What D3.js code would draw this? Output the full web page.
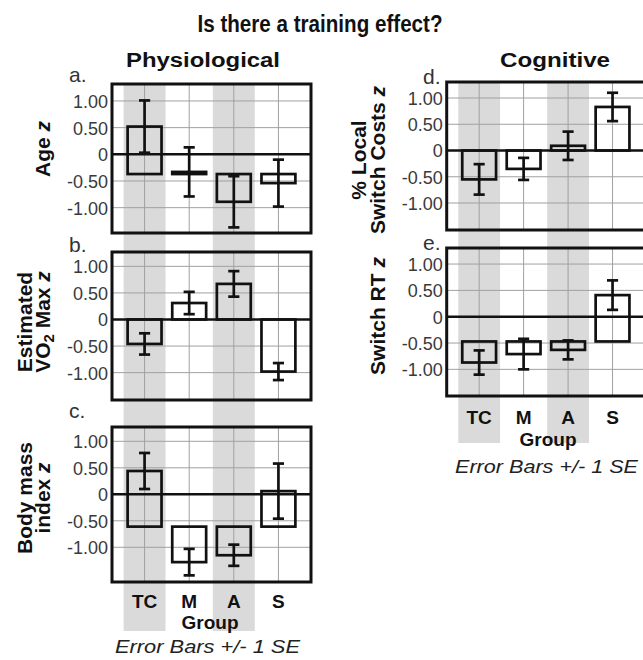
<!DOCTYPE html>
<html><head><meta charset="utf-8">
<script src="https://cdn.jsdelivr.net/npm/d3@7/dist/d3.min.js"></script>
<style>
body{margin:0;background:#fff}
svg{display:block;font-family:"Liberation Sans",Arial,sans-serif}
</style>
</head><body>
<svg id="chart" width="643" height="660"></svg>
<script>
// ---------- data ----------
const groups = ["TC", "M", "A", "S"];
const shadedGroups = ["TC", "A"];
const tickValues = [1, 0.5, 0, -0.5, -1];
const tickLabels = ["1.00", "0.50", "0", "-0.50", "-1.00"];

const ageMean = [0.52, -0.33, -0.89, -0.54];
const ageSE = [0.49, 0.46, 0.48, 0.44];
const ageBaseline = -0.37;
const ageDomain = [-1.475, 1.318];

const vo2Mean = [-0.46, 0.31, 0.67, -0.98];
const vo2SE = [0.20, 0.21, 0.24, 0.16];
const vo2Baseline = 0;
const vo2Domain = [-1.515, 1.27];

const bmiMean = [0.44, -1.28, -1.15, 0.06];
const bmiSE = [0.34, 0.25, 0.20, 0.52];
const bmiBaseline = -0.61;
const bmiDomain = [-1.655, 1.27];

const switchCostMean = [-0.55, -0.35, 0.09, 0.83];
const switchCostSE = [0.29, 0.21, 0.27, 0.27];
const switchCostBaseline = 0;
const switchCostDomain = [-1.514, 1.305];

const switchRTMean = [-0.87, -0.71, -0.63, 0.41];
const switchRTSE = [0.23, 0.29, 0.18, 0.28];
const switchRTBaseline = -0.47;
const switchRTDomain = [-1.506, 1.305];

const titleText = "Is there a training effect?";
const leftHeader = "Physiological";
const rightHeader = "Cognitive";
const xAxisTitle = "Group";
const noteText = "Error Bars +/- 1 SE";

// ---------- layout ----------
const svg = d3.select("#chart");
const cols = {
  L: {x0: 112, x1: 311, bandTop: 84, bandBottom: 631, labelY: 607.5, groupY: 629, groupX: 210, noteY: 653, noteX: 207.5, noteLen: 185, letterX: 69},
  R: {x0: 446.7, x1: 645, bandTop: 82, bandBottom: 443, labelY: 424, groupY: 446, groupX: 548, noteY: 473, noteX: 546.5, noteLen: 183, letterX: 423}
};
const panels = [
  {col: "L", letter: "a.", letterY: 81.5, top: 84, bottom: 233, mean: ageMean, se: ageSE, base: ageBaseline, domain: ageDomain,
   title: [["Age ", "z"]], titleX: [50], titleY: 149},
  {col: "L", letter: "b.", letterY: 251.5, top: 252, bottom: 400, mean: vo2Mean, se: vo2SE, base: vo2Baseline, domain: vo2Domain,
   title: [["Estimated"], ["VO", "2", " Max ", "z"]], titleX: [31.5, 50], titleY: 322},
  {col: "L", letter: "c.", letterY: 418, top: 427, bottom: 582, mean: bmiMean, se: bmiSE, base: bmiBaseline, domain: bmiDomain,
   title: [["Body mass"], ["index ", "z"]], titleX: [31.5, 50], titleY: 498},
  {col: "R", letter: "d.", letterY: 83.5, top: 82, bottom: 230, mean: switchCostMean, se: switchCostSE, base: switchCostBaseline, domain: switchCostDomain,
   title: [["% Local"], ["Switch Costs ", "z"]], titleX: [366, 385], titleY: 160},
  {col: "R", letter: "e.", letterY: 250, top: 248, bottom: 396, mean: switchRTMean, se: switchRTSE, base: switchRTBaseline, domain: switchRTDomain,
   title: [["Switch RT ", "z"]], titleX: [385], titleY: 316}
];

const xScales = {};
for (const k of Object.keys(cols)) {
  xScales[k] = d3.scalePoint().domain(groups).range([cols[k].x0, cols[k].x1]).padding(0.73);
}

// gray bands behind everything
for (const k of Object.keys(cols)) {
  const c = cols[k], x = xScales[k], step = x.step();
  svg.append("g").selectAll("rect").data(shadedGroups).join("rect")
    .attr("x", d => x(d) - step * 0.47).attr("width", step * 0.94)
    .attr("y", c.bandTop).attr("height", c.bandBottom - c.bandTop)
    .attr("fill", "#dadada");
}

panels.forEach(p => {
  const c = cols[p.col], x = xScales[p.col], step = x.step();
  const y = d3.scaleLinear().domain(p.domain).range([p.bottom, p.top]);
  const g = svg.append("g");
  // horizontal gridlines
  g.append("g").selectAll("line").data(tickValues.filter(v => v !== 0)).join("line")
    .attr("x1", c.x0).attr("x2", c.x1).attr("y1", d => y(d)).attr("y2", d => y(d))
    .attr("stroke", "#a0a0a0").attr("stroke-width", 1);
  // vertical gridlines
  g.append("g").selectAll("line").data(groups).join("line")
    .attr("x1", d => x(d)).attr("x2", d => x(d)).attr("y1", p.top).attr("y2", p.bottom)
    .attr("stroke", "#a0a0a0").attr("stroke-width", 1);
  // zero line
  g.append("line").attr("x1", c.x0).attr("x2", c.x1).attr("y1", y(0)).attr("y2", y(0))
    .attr("stroke", "#111").attr("stroke-width", 2.6);
  // bars (floating from baseline to mean)
  const data = groups.map((gname, i) => ({g: gname, m: p.mean[i], s: p.se[i]}));
  const bw = step * 0.76;
  g.append("g").selectAll("rect").data(data).join("rect")
    .attr("x", d => x(d.g) - bw / 2).attr("width", bw)
    .attr("y", d => Math.min(y(d.m), y(p.base)))
    .attr("height", d => Math.max(1, Math.abs(y(d.m) - y(p.base))))
    .attr("fill", "none").attr("stroke", "#111").attr("stroke-width", 2.7);
  // error bars
  const cap = step * 0.125;
  const eb = g.append("g").attr("stroke", "#111").attr("stroke-width", 2.7);
  eb.selectAll("line.v").data(data).join("line").attr("class", "v")
    .attr("x1", d => x(d.g)).attr("x2", d => x(d.g))
    .attr("y1", d => y(d.m - d.s)).attr("y2", d => y(d.m + d.s));
  eb.selectAll("line.t").data(data).join("line").attr("class", "t")
    .attr("x1", d => x(d.g) - cap).attr("x2", d => x(d.g) + cap)
    .attr("y1", d => y(d.m + d.s)).attr("y2", d => y(d.m + d.s));
  eb.selectAll("line.b").data(data).join("line").attr("class", "b")
    .attr("x1", d => x(d.g) - cap).attr("x2", d => x(d.g) + cap)
    .attr("y1", d => y(d.m - d.s)).attr("y2", d => y(d.m - d.s));
  // frame
  g.append("rect").attr("x", c.x0).attr("y", p.top).attr("width", c.x1 - c.x0).attr("height", p.bottom - p.top)
    .attr("fill", "none").attr("stroke", "#111").attr("stroke-width", 3);
  // y axis
  const ax = g.append("g").attr("transform", `translate(${c.x0 - 4},0)`)
    .call(d3.axisLeft(y).tickValues(tickValues).tickSize(0).tickPadding(0)
      .tickFormat((d, i) => tickLabels[i]));
  ax.select(".domain").remove();
  ax.selectAll("text").attr("font-size", 18).attr("fill", "#3a3a3a")
    .attr("font-family", '"Liberation Sans",Arial,sans-serif').attr("dy", "0.36em");
  // panel letter
  svg.append("text").attr("x", c.letterX).attr("y", p.letterY).attr("font-size", 21).attr("fill", "#333").text(p.letter);
  // y title
  p.title.forEach((parts, li) => {
    const t = svg.append("text")
      .attr("transform", `translate(${p.titleX[li]},${p.titleY}) rotate(-90)`)
      .attr("text-anchor", "middle").attr("font-size", 21).attr("font-weight", "bold").attr("fill", "#111");
    parts.forEach((s, si) => {
      const ts = t.append("tspan").text(s);
      if (s === "z") ts.attr("font-style", "italic");
      if (s === "2") ts.attr("font-size", 15).attr("dy", 4);
      if (si > 0 && parts[si - 1] === "2") ts.attr("dy", -4);
    });
  });
});

// x labels
for (const k of Object.keys(cols)) {
  const c = cols[k], x = xScales[k];
  svg.append("g").selectAll("text").data(groups).join("text")
    .attr("x", d => x(d)).attr("y", c.labelY).attr("text-anchor", "middle")
    .attr("font-size", 19).attr("font-weight", "bold").attr("fill", "#111").text(d => d);
  svg.append("text").attr("x", c.groupX).attr("y", c.groupY).attr("text-anchor", "middle")
    .attr("font-size", 19).attr("font-weight", "bold").attr("fill", "#111").text(xAxisTitle);
  svg.append("text").attr("x", c.noteX).attr("y", c.noteY).attr("text-anchor", "middle")
    .attr("font-size", 19).attr("font-style", "italic").attr("fill", "#222")
    .attr("textLength", c.noteLen).attr("lengthAdjust", "spacingAndGlyphs").text(noteText);
}

// headers & title
svg.append("text").attr("x", 320).attr("y", 31.7).attr("text-anchor", "middle")
  .attr("font-size", 23.5).attr("font-weight", "bold").attr("fill", "#111")
  .attr("textLength", 245).attr("lengthAdjust", "spacingAndGlyphs").text(titleText);
svg.append("text").attr("x", 203).attr("y", 66.7).attr("text-anchor", "middle")
  .attr("font-size", 20).attr("font-weight", "bold").attr("fill", "#111")
  .attr("textLength", 154).attr("lengthAdjust", "spacingAndGlyphs").text(leftHeader);
svg.append("text").attr("x", 555).attr("y", 66.7).attr("text-anchor", "middle")
  .attr("font-size", 20).attr("font-weight", "bold").attr("fill", "#111")
  .attr("textLength", 110).attr("lengthAdjust", "spacingAndGlyphs").text(rightHeader);
</script>
</body></html>
